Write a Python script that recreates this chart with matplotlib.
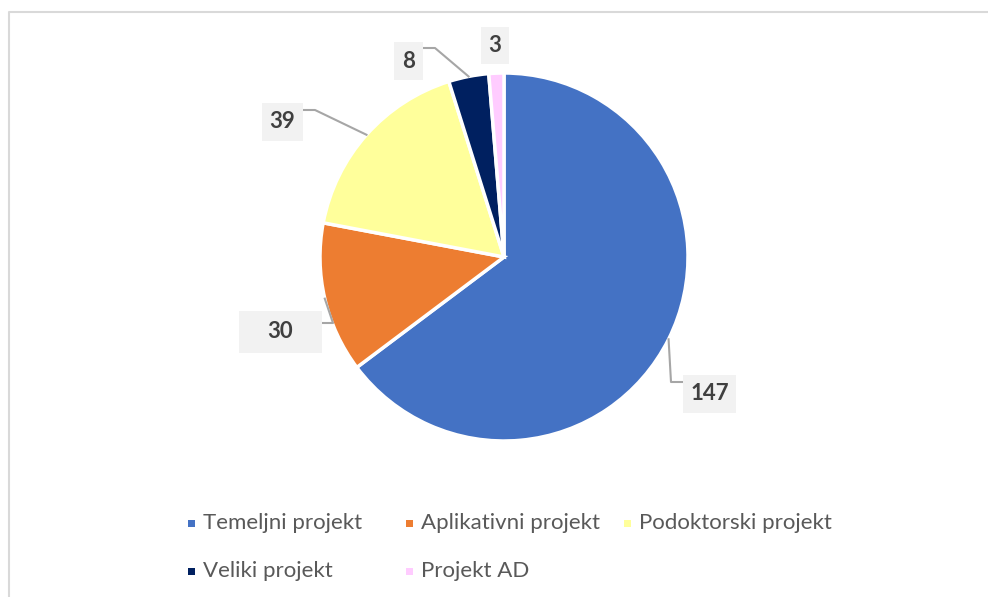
import numpy as np
import matplotlib.pyplot as plt
from matplotlib.patches import Rectangle

plt.rcParams['font.family'] = ['Lato', 'DejaVu Sans']

# data
categories = ['Temeljni projekt', 'Aplikativni projekt', 'Podoktorski projekt',
              'Veliki projekt', 'Projekt AD']
values = [147, 30, 39, 8, 3]
colors = ['#4472C4', '#ED7D31', '#FFFF9B', '#002060', '#FFCCFF']

W, H = 988, 597
fig = plt.figure(figsize=(W / 100, H / 100), dpi=100)
ax = fig.add_axes([0, 0, 1, 1])

def py(y):
    # pixel row (from top) -> data y
    return H - y

cx, cy, r = 504, 257, 184
wedges, _ = ax.pie(values, colors=colors, startangle=90, counterclock=False,
                   center=(cx, py(cy)), radius=r,
                   wedgeprops=dict(edgecolor='white', linewidth=2.5))

# label boxes: (left, top, right, bottom) in pixels, plus elbow of leader line
boxes = [(683, 375, 736, 413), (239, 311, 322, 353), (262, 103, 303, 141),
         (394, 42, 423, 80), (481, 27, 509, 64)]
elbows = [[(671, 382), (683, 382)],
          [(333, 323), (322, 323)],
          [(315, 110), (303, 110)],
          [(435, 48), (423, 48)],
          None]

for w, val, (x0, y0, x1, y1), elb in zip(wedges, values, boxes, elbows):
    ax.add_patch(Rectangle((x0, py(y1)), x1 - x0, y1 - y0, facecolor='#F2F2F2',
                           edgecolor='none', zorder=3))
    ax.text((x0 + x1) / 2, py((y0 + y1) / 2), str(val), ha='center', va='center',
            fontsize=16, fontweight='bold', color='#404040', zorder=4)
    if elb is not None:
        mid = np.deg2rad((w.theta1 + w.theta2) / 2)
        ax_x = cx + r * np.cos(mid)
        ax_y = py(cy) + r * np.sin(mid)
        xs = [ax_x] + [p[0] for p in elb]
        ys = [ax_y] + [py(p[1]) for p in elb]
        ax.plot(xs, ys, color='#A6A6A6', lw=1.5, zorder=2)

# legend
for i, (cat, col) in enumerate(zip(categories, colors)):
    lx = 191 + (i % 3) * 218
    ly = 523 + (i // 3) * 48
    ax.add_patch(Rectangle((lx - 3.5, py(ly) - 3.5), 7, 7, facecolor=col,
                           edgecolor='none'))
    ax.text(lx + 12, py(ly), cat, ha='left', va='center', fontsize=16,
            color='#595959')

# chart border (top and left visible)
ax.plot([9, 9, W], [0, py(11.5), py(11.5)], color='#D9D9D9', lw=1.5)

ax.set_xlim(0, W)
ax.set_ylim(0, H)
ax.set_aspect('equal')
ax.axis('off')

fig.savefig('out.png', dpi=100)
